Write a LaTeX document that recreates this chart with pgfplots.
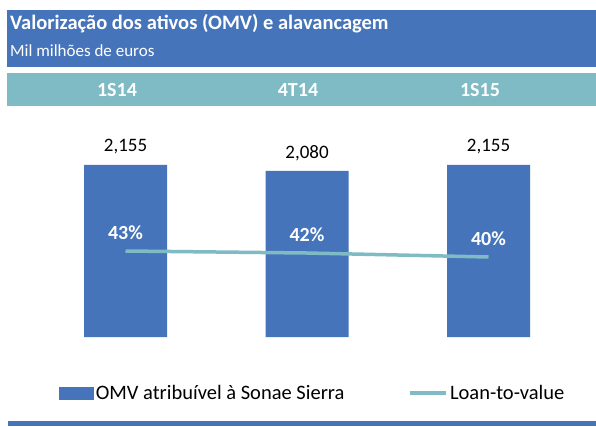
\documentclass[border=0pt]{standalone}
\usepackage{pgfplots}
\pgfplotsset{compat=1.18}
\usepackage{fontspec}
\setmainfont{Carlito}
\definecolor{cblue}{RGB}{70,116,186}
\definecolor{cteal}{RGB}{127,187,196}
\begin{document}
\begin{tikzpicture}[x=1pt,y=1pt]
\useasboundingbox[fill=white] (0,0) rectangle (596,426);
% bands
\fill[cblue] (7,359) rectangle (596,416);
\fill[cteal] (7,320) rectangle (596,353);
\fill[cblue] (8,0) rectangle (596,5);
\node[anchor=base west,inner sep=0,text=white,font=\fontsize{20.5}{22}\selectfont\bfseries] at (10,396) {Valorização dos ativos (OMV) e alavancagem};
\node[anchor=base west,inner sep=0,text=white,font=\fontsize{17}{19}\selectfont] at (10,369) {Mil milhões de euros};
\foreach \xx/\lab in {117/1S14,298/4T14,480/1S15}
  \node[anchor=base,inner sep=0,text=white,font=\fontsize{20}{22}\selectfont\bfseries] at (\xx,329) {\lab};
\begin{axis}[
  at={(34.75pt,89pt)}, anchor=south west,
  scale only axis, width=544.5pt, height=172pt,
  xmin=-0.5, xmax=2.5, ymin=0, ymax=2155,
  axis lines=none, clip=false,
  ybar, bar width=83pt,
  nodes near coords,
  nodes near coords style={font=\fontsize{19}{21}\selectfont, anchor=center, yshift=18pt,
    /pgf/number format/.cd, 1000 sep={,}, assume math mode=true},
]
\addplot[fill=cblue, draw=none] coordinates {(0,2155) (1,2080) (2,2155)};
\end{axis}
\begin{axis}[
  at={(34.75pt,89pt)}, anchor=south west,
  scale only axis, width=544.5pt, height=172pt,
  xmin=-0.5, xmax=2.5, ymin=0, ymax=86,
  axis lines=none, clip=false,
  legend columns=2,
  legend style={at={(0.045,-0.326)}, anchor=west, draw=none, fill=none,
    font=\fontsize{20.5}{22}\selectfont, inner sep=0pt,
    /tikz/every even column/.append style={column sep=62pt},
    nodes={inner sep=2pt}},
]
\addlegendimage{legend image code/.code={\fill[cblue] (0pt,-6pt) rectangle (34pt,6pt);}}
\addlegendentry{OMV atribuível à Sonae Sierra}
\addplot[cteal, line width=3.5pt, mark=none,
  nodes near coords={\pgfmathprintnumber{\pgfplotspointmeta}\%},
  nodes near coords style={font=\fontsize{20}{22}\selectfont\bfseries, text=white, anchor=center, yshift=18.5pt,
    /pgf/number format/assume math mode=true},
  legend image code/.code={\draw[cteal, line width=3.5pt] (0pt,0pt) -- (36pt,0pt);}]
  coordinates {(0,43) (1,42) (2,40)};
\addlegendentry{Loan-to-value}
\end{axis}
\end{tikzpicture}
\end{document}
